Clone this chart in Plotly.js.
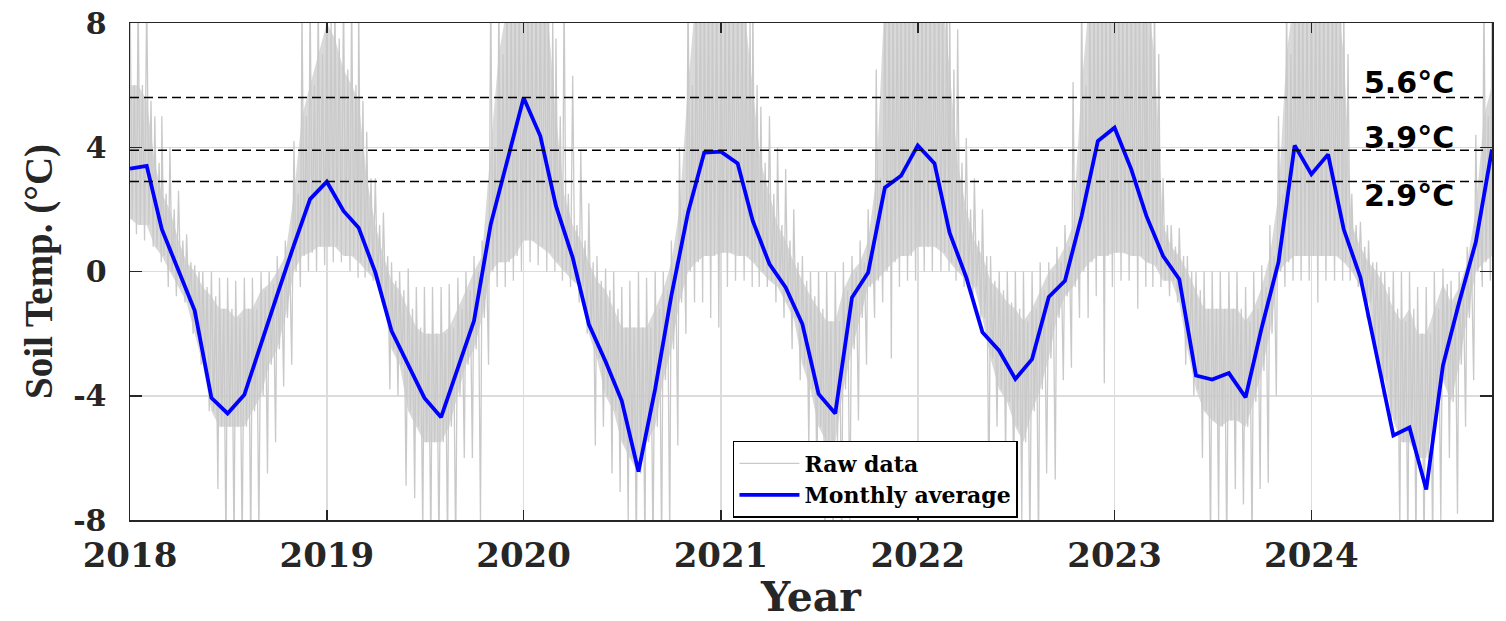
<!DOCTYPE html>
<html>
<head>
<meta charset="utf-8">
<script src="https://cdn.plot.ly/plotly-3.0.1.min.js"></script>
<style>html,body{margin:0;padding:0;background:#fff;}#chart{width:1506px;height:621px;}</style>
</head>
<body>
<div id="chart"></div>
<script>
// ---------------- DATA ----------------
const years = [2018, 2019, 2020, 2021, 2022, 2023, 2024];
const yearLabels = ['2018', '2019', '2020', '2021', '2022', '2023', '2024'];
const yTickVals = [-8, -4, 0, 4, 8];
const yTickText = ['-8', '-4', '0', '4', '8'];

// Monthly average soil temperature (°C), Jan..Dec
const avg2018 = [3.31, 3.40, 1.36, 0.05, -1.26, -4.07, -4.57, -3.97, -2.30, -0.75, 0.85, 2.33];
const avg2019 = [2.89, 1.95, 1.41, -0.03, -1.91, -3.00, -4.07, -4.69, -3.12, -1.59, 1.52, 3.52];
const avg2020 = [5.59, 4.36, 2.11, 0.45, -1.70, -2.90, -4.16, -6.44, -3.78, -0.78, 1.90, 3.83];
const avg2021 = [3.86, 3.48, 1.63, 0.24, -0.51, -1.69, -3.94, -4.57, -0.84, -0.03, 2.70, 3.08];
const avg2022 = [4.06, 3.48, 1.25, -0.19, -1.96, -2.55, -3.46, -2.82, -0.82, -0.30, 1.79, 4.20];
const avg2023 = [4.63, 3.29, 1.79, 0.50, -0.25, -3.35, -3.48, -3.27, -4.05, -1.80, 0.30, 4.06];
const avg2024 = [3.13, 3.77, 1.36, -0.19, -2.70, -5.28, -5.02, -7.02, -3.03, -1.00, 0.95, 3.93];

// Raw data, summarised per half month (1st-15th, 16th-end):
// dense core low / high and spike extremes low / high (°C)
const coreLo2018 = [1.7,1.5, 1.5,0.8, 0.5,0.0, -0.5,-1.0, -2.0,-3.0, -4.5,-5.0, -5.0,-5.0, -5.0,-4.5, -4.0,-3.0, -2.5,-1.5, 0.0,0.5, 0.6,0.8];
const coreHi2018 = [6.0,6.0, 5.5,3.5, 2.5,2.0, 1.0,0.3, 0.0,-0.5, -0.8,-1.2, -1.2,-1.5, -1.2,-1.2, -0.6,-0.4, 0.0,0.5, 2.5,5.0, 6.0,7.0];
const spLo2018 = [1.2,1.0, 0.8,0.3, -0.5,-0.8, -1.0,-2.0, -3.0,-4.5, -7.0,-9.0, -9.0,-9.0, -9.0,-8.5, -6.5,-5.5, -3.7,-3.0, -0.5,0.0, 0.0,0.2];
const spHi2018 = [9,9, 9,5.0, 5.0,4.0, 2.6,1.2, 0.2,0.0, 0.0,-0.2, -0.2,-0.3, -0.2,-0.2, 0.0,0.0, 0.5,1.0, 4.2,8.5, 9,9];

const coreLo2019 = [0.8,0.8, 0.5,0.5, 0.3,0.0, -0.3,-1.0, -2.5,-3.0, -4.5,-5.0, -5.5,-5.5, -5.5,-5.0, -4.0,-3.0, -2.5,-1.5, 0.0,0.3, 0.3,0.5];
const coreHi2019 = [8.0,7.5, 6.5,6.0, 5.5,3.0, 1.5,0.5, -0.3,-0.6, -1.2,-1.8, -2.0,-2.0, -2.0,-1.8, -1.2,-0.6, 0.0,0.5, 4.0,7.0, 8.5,9];
const spLo2019 = [0.3,0.3, 0.0,-0.2, -0.2,-0.3, -1.0,-3.8, -4.0,-6.9, -7.3,-8.5, -9.0,-9.0, -9.0,-9.0, -6.0,-6.0, -8.0,-3.0, -0.5,-0.5, -0.3,0.0];
const spHi2019 = [9,9, 9,9, 9,4.5, 3.0,1.9, 0.3,0.0, 0.1,-0.5, -0.5,-0.5, -0.5,-0.4, -0.2,0.0, 0.5,1.0, 9,9, 9,9];

const coreLo2020 = [1.0,1.0, 0.8,0.6, 0.3,0.0, -0.3,-0.5, -2.0,-2.8, -4.0,-4.5, -5.5,-6.0, -6.5,-5.5, -5.0,-3.5, -2.5,-1.0, 0.0,0.3, 0.5,0.5];
const coreHi2020 = [9,9, 9,8.0, 5.0,2.5, 1.5,1.0, 0.3,-0.3, -0.6,-1.2, -1.8,-1.8, -1.8,-1.8, -1.2,-0.6, 0.3,2.0, 6.0,9, 9,9];
const spLo2020 = [0.3,0.2, 0.0,0.0, -0.3,-0.5, -1.0,-2.0, -5.6,-5.0, -6.5,-7.1, -8.0,-9.0, -9.0,-9.0, -9.0,-8.5, -5.6,-2.0, -1.0,-1.0, -1.5,-1.8];
const spHi2020 = [9,9, 9,9, 7.5,9, 6.3,3.9, 2.2,0.5, 0.1,0.0, -0.5,-0.3, 0.0,-0.2, 0.0,0.0, 1.0,4.0, 9,9, 9,9];

const coreLo2021 = [0.6,0.6, 0.5,0.5, 0.3,0.0, -0.3,-0.5, -1.0,-1.5, -3.0,-3.8, -5.0,-5.5, -5.5,-3.8, -2.5,-1.5, -0.5,-0.3, 0.0,0.3, 0.5,0.5];
const coreHi2021 = [9,9, 9,8.0, 6.0,3.5, 2.5,1.5, 1.0,0.3, -0.3,-0.8, -1.2,-1.6, -1.6,-0.6, 0.0,0.3, 1.0,3.0, 9,9, 9,9];
const spLo2021 = [-0.5,-0.3, -0.3,-0.5, -0.5,-0.5, -1.0,-1.5, -2.5,-3.5, -5.7,-7.0, -9.0,-9.0, -9.0,-8.0, -4.8,-3.0, -1.5,-1.0, -2.8,-0.5, -0.3,-0.3];
const spHi2021 = [9,9, 9,9, 9,5.3, 5.0,4.0, 3.3,2.0, 0.5,0.0, 0.0,0.0, 0.0,0.3, 0.5,1.0, 2.0,6.5, 9,9, 9,9];

const coreLo2022 = [0.8,0.8, 0.8,0.6, 0.3,0.0, -0.3,-0.5, -1.5,-2.8, -3.8,-4.2, -5.0,-5.5, -4.5,-3.8, -2.8,-1.5, -0.8,-0.5, 0.0,0.3, 0.5,0.5];
const coreHi2022 = [9,9, 9,9, 6.5,3.5, 2.0,1.0, 0.5,-0.3, -0.6,-1.0, -1.2,-1.6, -1.2,-0.6, 0.0,0.3, 0.8,1.5, 6.0,9, 9,9];
const spLo2022 = [0.0,0.0, 0.0,0.0, -0.3,-0.5, -1.0,-1.5, -7.5,-5.0, -6.0,-7.0, -8.0,-9.0, -9.0,-6.5, -6.7,-3.5, -3.1,-1.5, -1.5,-0.8, -3.6,-0.5];
const spHi2022 = [9,9, 9,9, 9,7.8, 4.3,3.0, 2.0,0.5, 0.0,0.0, 0.0,0.0, 0.0,0.3, 0.3,0.8, 1.5,6.1, 9,9, 9,9];

const coreLo2023 = [0.6,0.6, 0.5,0.5, 0.3,0.2, -0.3,-0.3, -1.0,-2.5, -3.8,-4.5, -4.8,-5.0, -4.8,-4.8, -5.0,-4.2, -3.2,-2.0, 0.0,0.3, 0.5,0.5];
const coreHi2023 = [9,9, 9,9, 9,7.0, 1.5,0.8, 0.5,0.0, -0.6,-1.2, -1.2,-1.2, -1.2,-1.2, -1.6,-1.2, -0.5,0.5, 2.5,7.0, 9,9];
const spLo2023 = [-0.3,-0.3, -1.2,-0.5, -0.5,-0.5, -0.8,-1.0, -3.0,-4.0, -6.0,-9.0, -8.0,-9.0, -7.0,-7.5, -9.0,-7.0, -6.8,-4.0, -0.5,-0.3, -0.3,-0.3];
const spHi2023 = [9,9, 9,9, 9,9, 3.0,1.5, 1.4,0.5, 0.0,0.0, 0.0,0.0, 0.0,0.0, -0.5,0.0, 0.2,1.5, 5.0,9, 9,9];

// 2024 runs to 1 December
const coreLo2024 = [0.5,0.5, 0.5,0.5, 0.3,0.0, -0.5,-1.0, -2.5,-3.5, -4.8,-5.5, -5.5,-6.0, -6.0,-4.8, -3.5,-4.2, -3.0,-1.5, 0.0,0.3, 0.5];
const coreHi2024 = [9,9, 9,9, 7.0,1.5, 0.8,0.3, 0.0,-0.5, -1.2,-1.6, -1.2,-2.0, -2.0,-1.2, -0.4,-1.0, -0.5,0.3, 2.0,5.0, 6.0];
const spLo2024 = [-1.0,-0.3, -0.3,-0.3, -0.3,-0.5, -1.5,-2.5, -4.0,-5.0, -8.5,-9.0, -9.0,-9.0, -9.0,-8.0, -6.0,-7.8, -5.0,-3.5, -0.5,-0.3, 0.0];
const spHi2024 = [9,9, 9,9, 9,2.5, 1.6,1.0, 0.3,0.0, 0.0,0.0, 0.0,-0.5, -0.5,0.0, 0.1,-0.3, 0.0,0.8, 4.4,9, 9];

// Reference lines
const thresholds = [5.6, 3.9, 2.9];

// ---------------- BUILD TABLES ----------------
const pad = n => String(n).padStart(2, '0');
const avgTable = [avg2018, avg2019, avg2020, avg2021, avg2022, avg2023, avg2024];
const coreLoTable = [coreLo2018, coreLo2019, coreLo2020, coreLo2021, coreLo2022, coreLo2023, coreLo2024];
const coreHiTable = [coreHi2018, coreHi2019, coreHi2020, coreHi2021, coreHi2022, coreHi2023, coreHi2024];
const spLoTable = [spLo2018, spLo2019, spLo2020, spLo2021, spLo2022, spLo2023, spLo2024];
const spHiTable = [spHi2018, spHi2019, spHi2020, spHi2021, spHi2022, spHi2023, spHi2024];

const avgX = [], avgY = [];
years.forEach((yr, i) => {
  avgTable[i].forEach((v, m) => { avgX.push(`${yr}-${pad(m + 1)}-01`); avgY.push(v); });
});

const bandX = [], bandLo = [], bandHi = [];
const rawX = [], rawY = [];
years.forEach((yr, i) => {
  coreLoTable[i].forEach((v, k) => {
    const m = Math.floor(k / 2) + 1;
    const d0 = (k % 2) ? 16 : 1;
    bandX.push(`${yr}-${pad(m)}-${pad(d0)}`);
    bandLo.push(v);
    bandHi.push(coreHiTable[i][k]);
    const seq = [spHiTable[i][k], coreLoTable[i][k], coreHiTable[i][k], spLoTable[i][k]];
    seq.forEach((val, j) => {
      rawX.push(`${yr}-${pad(m)}-${pad(d0 + j * 4)}`);
      rawY.push(val);
    });
  });
});

const grey = '#c9c9c9';
const traces = [
  { x: bandX, y: bandLo, type: 'scatter', mode: 'lines', line: { width: 0, color: grey },
    showlegend: false, hoverinfo: 'skip' },
  { x: bandX, y: bandHi, type: 'scatter', mode: 'lines', line: { width: 0, color: grey },
    fill: 'tonexty', fillcolor: 'rgba(201,201,201,0.7)', showlegend: false, hoverinfo: 'skip' },
  { x: rawX, y: rawY, type: 'scatter', mode: 'lines', name: 'Raw data',
    line: { width: 1.3, color: grey } },
  { x: avgX, y: avgY, type: 'scatter', mode: 'lines', name: 'Monthly average',
    line: { width: 3.8, color: '#0000ff' } }
];

const axisColor = '#262626';
const serif = 'DejaVu Serif';
const yearTicks = years.map(y => `${y}-01-01`);

const shapes = thresholds.map(t => ({
  type: 'line', xref: 'paper', x0: 0, x1: 0.997, yref: 'y', y0: t, y1: t,
  line: { color: '#000000', width: 1.5, dash: '9px,5px' }, layer: 'above'
}));

const labelY = [6.07, 4.33, 2.46];
const annotations = thresholds.map((t, i) => ({
  xref: 'paper', x: 0.9046, xanchor: 'left',
  yref: 'y', y: labelY[i], yanchor: 'middle',
  text: `${t.toFixed(1)}°C`, showarrow: false,
  font: { family: 'DejaVu Sans', size: 30, weight: 'bold', color: '#000000' }
}));

const layout = {
  width: 1506, height: 621,
  margin: { l: 130, r: 14, t: 23, b: 101, pad: 0 },
  paper_bgcolor: '#ffffff', plot_bgcolor: '#ffffff',
  showlegend: true,
  legend: {
    x: 0.4427, xanchor: 'left', y: 0.159, yanchor: 'top',
    traceorder: 'normal',
    bgcolor: '#ffffff', bordercolor: '#000000', borderwidth: 1.5,
    itemwidth: 60, tracegroupgap: 0,
    font: { family: serif, size: 22, weight: 'bold', color: '#000000' }
  },
  xaxis: {
    type: 'date', range: ['2018-01-01', '2024-12-01'],
    tickmode: 'array', tickvals: yearTicks, ticktext: yearLabels,
    ticks: 'inside', ticklen: 10, tickwidth: 1.5, tickcolor: axisColor,
    showline: true, linecolor: axisColor, linewidth: 1.5, mirror: 'ticks',
    showgrid: true, gridcolor: '#dcdcdc', gridwidth: 1.5, zeroline: false,
    tickfont: { family: serif, size: 34, weight: 'bold', color: axisColor },
    ticklabelstandoff: 5,
    title: { text: 'Year', standoff: 6,
      font: { family: serif, size: 41, weight: 'bold', color: axisColor } },
    automargin: false, fixedrange: true
  },
  yaxis: {
    range: [-8, 8],
    tickmode: 'array', tickvals: yTickVals, ticktext: yTickText,
    ticks: 'inside', ticklen: 12, tickwidth: 1.5, tickcolor: axisColor,
    showline: true, linecolor: axisColor, linewidth: 1.5, mirror: 'ticks',
    showgrid: true, gridcolor: '#dcdcdc', gridwidth: 1.5, zeroline: false,
    tickfont: { family: serif, size: 30, weight: 'bold', color: axisColor },
    ticklabelstandoff: 16,
    title: { text: 'Soil Temp. (°C)', standoff: 8,
      font: { family: 'Liberation Serif', size: 39, weight: 'bold', color: axisColor } },
    automargin: false, fixedrange: true
  },
  shapes: shapes,
  annotations: annotations
};

Plotly.newPlot('chart', traces, layout, { displayModeBar: false, staticPlot: true });
</script>
</body>
</html>
